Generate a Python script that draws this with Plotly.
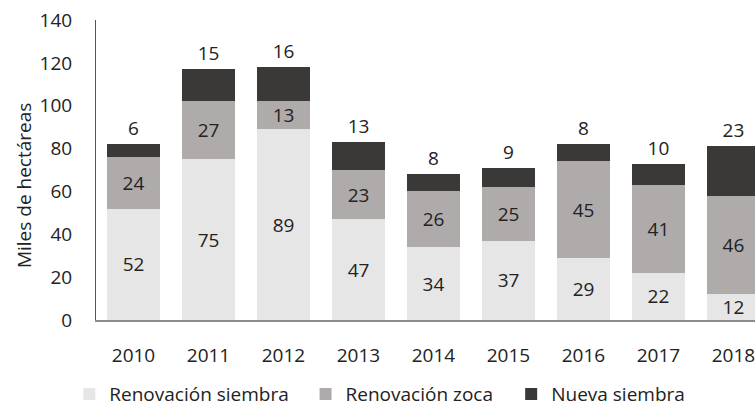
import plotly.graph_objects as go

years = ["2010", "2011", "2012", "2013", "2014", "2015", "2016", "2017", "2018"]
renovacion_siembra = [52, 75, 89, 47, 34, 37, 29, 22, 12]
renovacion_zoca = [24, 27, 13, 23, 26, 25, 45, 41, 46]
nueva_siembra = [6, 15, 16, 13, 8, 9, 8, 10, 23]
y_ticks = [0, 20, 40, 60, 80, 100, 120, 140]

FONT = "Open Sans"
FS = 19
fig = go.Figure()
fig.add_trace(go.Bar(x=years, y=renovacion_siembra, name="Renovación siembra",
                     marker=dict(color="#E7E6E6", line=dict(width=0)), legend="legend",
                     text=renovacion_siembra, textposition="inside", insidetextanchor="middle",
                     textangle=0, textfont=dict(color="#222", size=FS, family=FONT)))
fig.add_trace(go.Bar(x=years, y=renovacion_zoca, name="Renovación zoca",
                     marker=dict(color="#AFABAB", line=dict(width=0)), legend="legend2",
                     text=renovacion_zoca, textposition="inside", insidetextanchor="middle",
                     textangle=0, textfont=dict(color="#222", size=FS, family=FONT)))
fig.add_trace(go.Bar(x=years, y=nueva_siembra, name="Nueva siembra",
                     marker=dict(color="#3B3838", line=dict(width=0)), legend="legend3",
                     text=nueva_siembra, textposition="outside", textangle=0,
                     textfont=dict(color="#222", size=FS, family=FONT),
                     cliponaxis=False))

leg_common = dict(orientation="h", xanchor="left", y=-0.247, yanchor="middle",
                  font=dict(size=FS, family=FONT), bgcolor="rgba(0,0,0,0)")

fig.update_layout(
    width=755, height=406,
    barmode="stack", bargap=0.29,
    margin=dict(l=96, r=0, t=20, b=86, autoexpand=False),
    plot_bgcolor="white", paper_bgcolor="white",
    font=dict(family=FONT, size=FS, color="#222"),
    uniformtext=dict(minsize=FS, mode="show"),
    legend=dict(x=-0.0405, **leg_common),
    legend2=dict(x=0.318, **leg_common),
    legend3=dict(x=0.630, **leg_common),
    showlegend=True,
    annotations=[dict(text="Miles de hectáreas", textangle=-90, xref="paper", yref="paper",
                      x=-0.109, y=0.447, xanchor="center", yanchor="middle",
                      showarrow=False, font=dict(size=FS, family=FONT, color="#222"))],
)
fig.update_xaxes(type="category", range=[-0.5, 8.287], showline=True, linecolor="#8c8c8c",
                 linewidth=1.5, ticks="", ticklabelstandoff=17, showgrid=False,
                 automargin=False, tickfont=dict(size=FS))
fig.update_yaxes(range=[0, 140], tickvals=y_ticks, showline=True, linecolor="#555",
                 linewidth=1, showgrid=False, zeroline=False, ticks="",
                 automargin=False, ticklabelstandoff=19, tickfont=dict(size=FS))

fig.write_html("out.html", config={"displayModeBar": False},
               post_script="document.body.style.margin='0';document.body.style.overflow='hidden';")
